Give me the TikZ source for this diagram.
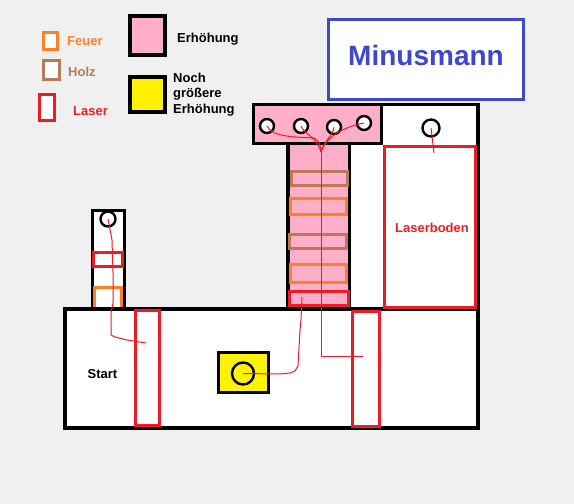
\documentclass[tikz,border=0pt]{standalone}
\usepackage{fontspec}
\setmainfont{Liberation Sans}
\usetikzlibrary{positioning}
\definecolor{laserred}{HTML}{ED1C24}
\definecolor{fireorange}{HTML}{FF7F27}
\definecolor{woodbrown}{HTML}{B97A57}
\definecolor{raisepink}{HTML}{FFAEC9}
\definecolor{raiseyellow}{HTML}{FFF200}
\definecolor{titleblue}{HTML}{3F48CC}
\definecolor{canvasgray}{HTML}{F0F0F0}
\tikzset{
  wall/.style={draw=black, line width=3.2pt, fill=white},
  raise/.style={wall, fill=raisepink},
  higher/.style={wall, fill=raiseyellow},
  laserbox/.style={draw=laserred, line width=3pt},
  firebox/.style={draw=fireorange, line width=3pt},
  woodbox/.style={draw=woodbrown, line width=3pt},
  swatch/.style={rectangle, inner sep=0pt, fill=white},
  hole/.style={circle, draw=black, line width=2.4pt, fill=white, inner sep=0pt, minimum size=14pt},
  ray/.style={draw=laserred, line width=1pt},
  txt/.style={font=\fontsize{13}{15.5}\selectfont\bfseries, inner sep=0pt},
}

\begin{document}
\begin{tikzpicture}[x=1pt, y=-1pt]

  % Canvas
  \useasboundingbox (0,0) rectangle (574,504);
  \fill[canvasgray] (0,0) rectangle (574,504);

  % Legend
  \node[swatch, firebox, minimum width=14pt, minimum height=17pt] (firekey) at (50.5,41) {};
  \node[txt, text=fireorange, anchor=base west] (feuer) at (67,45) {Feuer};
  \node[swatch, woodbox, minimum width=16pt, minimum height=19pt] (woodkey) at (51.5,70) {};
  \node[txt, text=woodbrown, anchor=base west] (holz) at (68,76) {Holz};
  \node[swatch, laserbox, minimum width=15pt, minimum height=26pt] (laserkey) at (47,107.5) {};
  \node[txt, text=laserred, anchor=base west] (laser) at (73,115) {Laser};
  \node[swatch, raise, line width=3.6pt, minimum width=35pt, minimum height=39pt] (pinkkey) at (147.5,35.5) {};
  \node[txt, anchor=base west] (erh) at (177,42) {Erhöhung};
  \node[swatch, higher, line width=3.6pt, minimum width=35pt, minimum height=35pt] (yellowkey) at (147.5,94.5) {};
  \node[txt, anchor=north west, align=left] (noch) at (173,72.5) {Noch\\größere\\Erhöhung};

  % Title
  \node[draw=titleblue, line width=3pt, fill=white, minimum width=195pt, minimum height=80pt] (titlebox) at (426,59.5) {};
  \node[font=\fontsize{28}{30}\selectfont\bfseries, text=titleblue, inner sep=0pt, anchor=base] (title) at (426,65) {Minusmann};

  % Floor and left tower
  \draw[wall] (65,309) rectangle (478,428);
  \draw[wall] (92.5,210.5) rectangle (124.5,309);
  \draw[laserbox] (93.5,252.5) rectangle (122.5,266.5);
  \draw[firebox] (94.5,307) |- (121.5,287.5) -- (121.5,307);

  % Right block with pink T
  \draw[wall] (253.5,104.5) -- (478,104.5) -- (478,309) -- (288,309) -- (288,143.5) -- (253.5,143.5) -- cycle;
  \draw[raise] (253.5,104.5) rectangle (381.5,143.5);
  \draw[raise] (288,143.5) rectangle (349.5,309);
  \draw[woodbox] (291.5,171.5) rectangle (347.5,185.5);
  \draw[firebox] (290.5,198.5) rectangle (346.5,214.5);
  \draw[woodbox] (289.5,234.5) rectangle (346.5,248.5);
  \draw[firebox] (290.5,264.5) rectangle (346.5,282.5);
  \draw[laserbox] (289.5,291.5) rectangle (348.5,305.5);
  \draw[laserbox] (384.5,146.5) rectangle (475.5,307);
  \node[txt, text=laserred, anchor=base] (bodenlabel) at (432,232) {Laserboden};

  % Lasers in the floor
  \draw[laserbox] (135.5,310.5) rectangle (159.5,425.5);
  \draw[laserbox] (352.5,311.5) rectangle (379.5,426.5);
  \node[txt, anchor=base] (start) at (102.5,378) {Start};

  % Yellow block
  \draw[higher, line width=3pt] (218.5,352.5) rectangle (268.5,392.5);

  % Holes
  \node[hole, minimum size=15pt] (h0) at (108,219) {};
  \node[hole] (h1) at (267,126) {};
  \node[hole] (h2) at (301,126) {};
  \node[hole] (h3) at (334,127) {};
  \node[hole] (h4) at (364,123) {};
  \node[hole, minimum size=17pt] (h5) at (431,128) {};
  \node[hole, fill=none, minimum size=22pt] (core) at (243,373.5) {};

  % Beam ends
  \coordinate (fork) at (321,152);
  \coordinate (leftbeam) at (146,343);
  \coordinate (rightbeam) at (363,356);
  \coordinate (pinkbeam) at (302,297);
  \coordinate (boden) at (434,153);

  % Laser paths
  \draw[ray] (h0.center) -- (112,240) -- (113,273) -- (113,303) -- (111,313) -- (111,335)
    -- (115,337) -- (127,340) -- (leftbeam);
  \draw[ray] (h1.center) .. controls (272,138) and (300,137) .. (314,138)
    .. controls (319,140) and (321,146) .. (fork);
  \draw[ray] (h2.center) .. controls (304,134) and (316,136) .. (fork);
  \draw[ray] (h3.center) .. controls (333,136) and (323,142) .. (fork);
  \draw[ray] (h4.center) .. controls (340,128) and (326,138) .. (fork);
  \draw[ray] (fork) |- (rightbeam);
  \draw[ray] (core.center) -- (280,374) -- (290,373) -- (295,371) -- (298,366)
    -- (300,330) -- (301,320) -- (pinkbeam);
  \draw[ray] (h5.center) -- (boden);

\end{tikzpicture}
\end{document}
